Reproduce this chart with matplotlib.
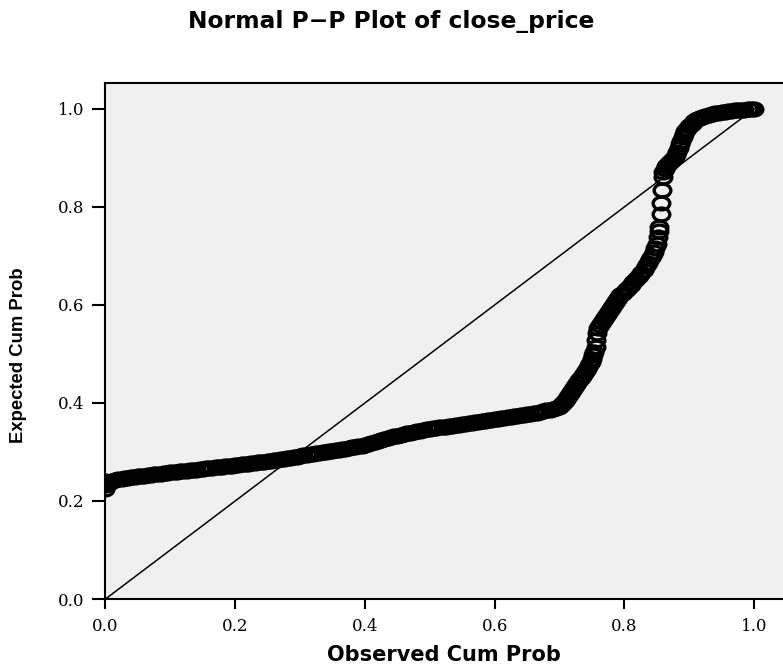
import matplotlib
matplotlib.use("Agg")
import matplotlib.pyplot as plt
from matplotlib.path import Path

# observed vs expected cumulative probability
# long flat stretch (0.0 - 0.70)
flat_obs = [0.000, 0.000, 0.000, 0.005, 0.010, 0.015, 0.020, 0.025, 0.030, 0.035,
            0.040, 0.045, 0.050, 0.055, 0.060, 0.065, 0.070, 0.075, 0.080, 0.085,
            0.090, 0.095, 0.100, 0.105, 0.110, 0.115, 0.120, 0.125, 0.130, 0.135,
            0.140, 0.145, 0.150, 0.155, 0.160, 0.165, 0.170, 0.175, 0.180, 0.185,
            0.190, 0.195, 0.200, 0.205, 0.210, 0.215, 0.220, 0.225, 0.230, 0.235,
            0.240, 0.245, 0.250, 0.255, 0.260, 0.265, 0.270, 0.275, 0.280, 0.285,
            0.290, 0.295, 0.300, 0.305, 0.310, 0.315, 0.320, 0.325, 0.330, 0.335,
            0.340, 0.345, 0.350, 0.355, 0.360, 0.365, 0.370, 0.375, 0.380, 0.385,
            0.390, 0.395, 0.400, 0.405, 0.410, 0.415, 0.420, 0.425, 0.430, 0.435,
            0.440, 0.445, 0.450, 0.455, 0.460, 0.465, 0.470, 0.475, 0.480, 0.485,
            0.490, 0.495, 0.500, 0.505, 0.510, 0.515, 0.520, 0.525, 0.530, 0.535,
            0.540, 0.545, 0.550, 0.555, 0.560, 0.565, 0.570, 0.575, 0.580, 0.585,
            0.590, 0.595, 0.600, 0.605, 0.610, 0.615, 0.620, 0.625, 0.630, 0.635,
            0.640, 0.645, 0.650, 0.655, 0.660, 0.665, 0.670, 0.675, 0.680, 0.685,
            0.690, 0.695, 0.700]
flat_exp = [0.225, 0.232, 0.240, 0.237, 0.240, 0.242, 0.244, 0.245, 0.246, 0.247,
            0.248, 0.249, 0.250, 0.251, 0.252, 0.253, 0.254, 0.255, 0.255, 0.256,
            0.257, 0.258, 0.259, 0.260, 0.260, 0.261, 0.262, 0.262, 0.263, 0.264,
            0.264, 0.265, 0.266, 0.267, 0.267, 0.268, 0.269, 0.270, 0.270, 0.271,
            0.272, 0.272, 0.273, 0.274, 0.275, 0.276, 0.276, 0.277, 0.278, 0.279,
            0.280, 0.280, 0.281, 0.282, 0.283, 0.284, 0.285, 0.286, 0.287, 0.288,
            0.289, 0.290, 0.292, 0.293, 0.294, 0.295, 0.296, 0.297, 0.298, 0.299,
            0.300, 0.301, 0.303, 0.304, 0.305, 0.306, 0.307, 0.309, 0.310, 0.311,
            0.312, 0.313, 0.315, 0.317, 0.318, 0.320, 0.322, 0.324, 0.326, 0.328,
            0.330, 0.332, 0.333, 0.335, 0.336, 0.338, 0.339, 0.340, 0.342, 0.343,
            0.344, 0.346, 0.347, 0.348, 0.349, 0.350, 0.351, 0.352, 0.353, 0.354,
            0.355, 0.356, 0.357, 0.358, 0.359, 0.360, 0.361, 0.362, 0.363, 0.364,
            0.365, 0.366, 0.367, 0.368, 0.369, 0.370, 0.371, 0.372, 0.373, 0.374,
            0.375, 0.376, 0.377, 0.378, 0.379, 0.380, 0.382, 0.383, 0.385, 0.386,
            0.388, 0.390, 0.392]

# steep climb and top shoulder (0.70 - 1.0)
steep_obs = [0.703, 0.706, 0.709, 0.712, 0.715, 0.718, 0.721, 0.724, 0.727, 0.730,
             0.733, 0.736, 0.739, 0.742, 0.745, 0.748, 0.750, 0.752, 0.754, 0.756,
             0.757, 0.758, 0.760, 0.763, 0.766, 0.769, 0.772, 0.775, 0.778, 0.781,
             0.784, 0.787, 0.790, 0.794, 0.798, 0.802, 0.806, 0.810, 0.814, 0.818,
             0.822, 0.826, 0.830, 0.834, 0.837, 0.840, 0.843, 0.846, 0.848, 0.850,
             0.852, 0.853, 0.854, 0.856, 0.857, 0.858, 0.859, 0.860, 0.862, 0.865,
             0.868, 0.871, 0.874, 0.877, 0.880, 0.882, 0.884, 0.886, 0.888, 0.890,
             0.892, 0.894, 0.897, 0.900, 0.904, 0.908, 0.912, 0.916, 0.920, 0.925,
             0.930, 0.935, 0.940, 0.945, 0.950, 0.955, 0.960, 0.965, 0.970, 0.975,
             0.980, 0.985, 0.990, 0.995, 1.000]
steep_exp = [0.396, 0.400, 0.405, 0.410, 0.416, 0.422, 0.428, 0.434, 0.440, 0.446,
             0.452, 0.458, 0.464, 0.470, 0.477, 0.484, 0.490, 0.497, 0.505, 0.515,
             0.528, 0.542, 0.553, 0.560, 0.566, 0.572, 0.578, 0.584, 0.590, 0.596,
             0.602, 0.608, 0.614, 0.620, 0.625, 0.630, 0.635, 0.641, 0.647, 0.653,
             0.659, 0.665, 0.672, 0.679, 0.686, 0.693, 0.700, 0.708, 0.716, 0.724,
             0.738, 0.750, 0.760, 0.785, 0.808, 0.835, 0.862, 0.872, 0.878, 0.883,
             0.887, 0.891, 0.895, 0.900, 0.906, 0.913, 0.920, 0.928, 0.935, 0.942,
             0.948, 0.954, 0.960, 0.965, 0.970, 0.975, 0.979, 0.982, 0.984, 0.986,
             0.988, 0.990, 0.991, 0.992, 0.993, 0.994, 0.995, 0.996, 0.997, 0.997,
             0.998, 0.998, 0.999, 0.999, 1.000]

diag = [0.0, 1.0]
ticks = [0.0, 0.2, 0.4, 0.6, 0.8, 1.0]
tick_labels = ["0.0", "0.2", "0.4", "0.6", "0.8", "1.0"]

# the original export is stretched sideways, so the circles are a bit wide
circ = Path.unit_circle()
wide_circle = Path(circ.vertices * [1.3, 1.0], circ.codes)

fig = plt.figure(figsize=(7.83, 6.66), dpi=100)
# axes run past the right edge of the picture, like the cropped original
ax = fig.add_axes([0.1347, 0.1006, 0.8722, 0.7748])
ax.set_facecolor("#f0f0f0")

ax.plot(diag, diag, color="black", lw=1.1, zorder=2)
ax.plot(flat_obs + steep_obs, flat_exp + steep_exp, linestyle="none",
        marker=wide_circle, markersize=12, markerfacecolor="none",
        markeredgecolor="black", markeredgewidth=2.4, zorder=3)

ax.set_xlim(0, 1.053)
ax.set_ylim(0, 1.053)
ax.set_xticks(ticks)
ax.set_yticks(ticks)
ax.set_xticklabels(tick_labels, fontfamily="DejaVu Serif", fontsize=12)
ax.set_yticklabels(tick_labels, fontfamily="DejaVu Serif", fontsize=12)
ax.tick_params(axis="x", length=7, width=1.5, pad=7)
ax.tick_params(axis="y", length=9.5, width=1.5, pad=5.5)
for s in ax.spines.values():
    s.set_linewidth(1.5)

fig.text(0.5, 1 - 28 / 666, "Normal P\u2212P Plot of close_price", ha="center",
         va="baseline", fontfamily="DejaVu Sans", fontweight="bold",
         fontsize=16.8)
fig.text(0.023, 1 - 355 / 666, "Expected Cum Prob", ha="center", va="center",
         rotation=90, fontfamily="Liberation Sans", fontweight="bold",
         fontsize=13.3)
fig.text(0.5664, 1 - 661 / 666, "Observed Cum Prob", ha="center",
         va="baseline", fontfamily="DejaVu Sans", fontweight="bold",
         fontsize=15)

fig.savefig("out.png", dpi=100)
